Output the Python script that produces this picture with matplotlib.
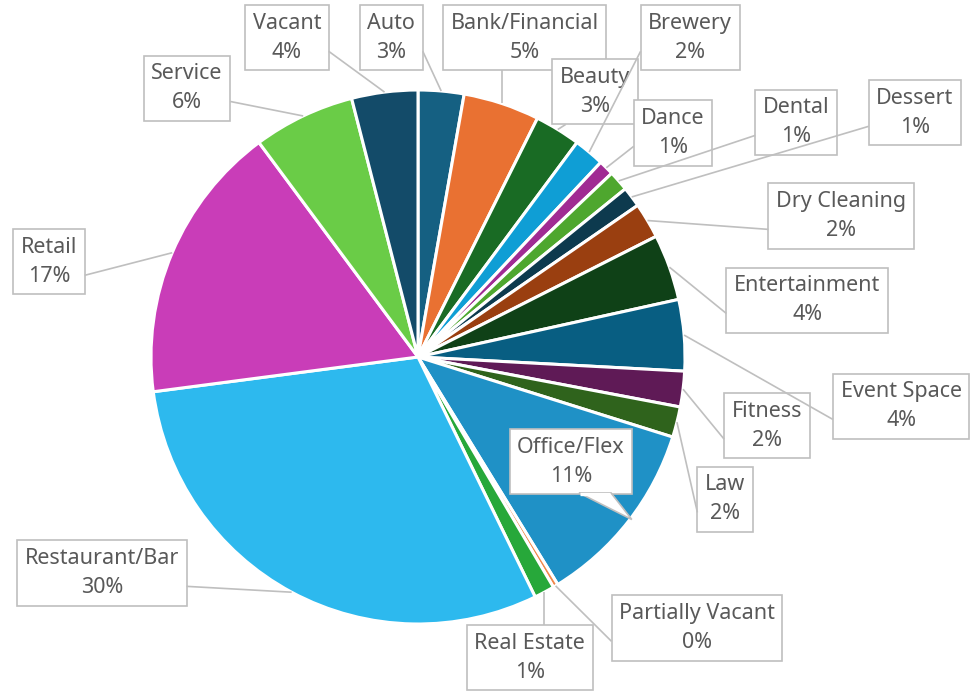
import numpy as np
import matplotlib
matplotlib.use("Agg")
import matplotlib.pyplot as plt

# Data (counts)
categories = ["Auto", "Bank/Financial", "Beauty", "Brewery", "Dance", "Dental",
              "Dessert", "Dry Cleaning", "Entertainment", "Event Space", "Fitness",
              "Law", "Office/Flex", "Partially Vacant", "Real Estate",
              "Restaurant/Bar", "Retail", "Service", "Vacant"]
counts = [9, 15, 9, 6, 3, 4, 4, 7, 13, 14, 7, 6, 37, 1, 4, 98, 55, 20, 13]

colors = ["#156082", "#E97132", "#196B24", "#0F9ED5", "#A02B93", "#4EA72E",
          "#0D3A4E", "#9A3F10", "#0F4117", "#085E82", "#5F1A56", "#2F631C",
          "#1F91C6", "#F0884A", "#27A83A", "#2DB9EE", "#C93DB8", "#6ACC47",
          "#134B69"]

# label box centres (axes data units, pie radius = 1)
label_xy = [(-0.10, 1.195), (0.40, 1.195), (0.663, 0.993), (1.019, 1.195),
            (0.955, 0.839), (1.416, 0.880), (1.861, 0.914), (1.584, 0.528),
            (1.457, 0.213), (1.809, -0.184), (1.307, -0.258), (1.150, -0.532),
            (0.573, -0.393), (1.045, -1.015), (0.419, -1.127), (-1.184, -0.809),
            (-1.382, 0.356), (-0.865, 1.007), (-0.491, 1.195)]

W, H = 973, 692
cx, cy, R = 418, 357, 267
fig = plt.figure(figsize=(W / 100, H / 100), dpi=100)
ax = fig.add_axes([0, 0, 1, 1])

wedges, _ = ax.pie(counts, colors=colors, startangle=90, counterclock=False,
                   radius=1.0, wedgeprops=dict(edgecolor="white", linewidth=2.2))
ax.set_xlim(-cx / R, (W - cx) / R)
ax.set_ylim(-(H - cy) / R, cy / R)
ax.set_aspect("auto")
ax.axis("off")

total = sum(counts)
plt.rcParams["font.family"] = ["Noto Sans", "DejaVu Sans"]
texts = []
for i, (name, v) in enumerate(zip(categories, counts)):
    pct = round(100 * v / total)
    lx, ly = label_xy[i]
    t = ax.text(lx, ly, f"{name}\n{pct}%", ha="center", va="center",
                fontsize=15.5, color="#595959", linespacing=1.5, zorder=4,
                bbox=dict(boxstyle="square,pad=0.35", fc="white", ec="#BFBFBF", lw=1.2))
    texts.append(t)

fig.canvas.draw()
renderer = fig.canvas.get_renderer()
inv = ax.transData.inverted()

for i, w in enumerate(wedges):
    mid = 0.5 * (w.theta1 + w.theta2)
    px, py = np.cos(np.radians(mid)), np.sin(np.radians(mid))
    bb = texts[i].get_bbox_patch().get_window_extent(renderer)
    (x0, y0), (x1, y1) = inv.transform([(bb.x0, bb.y0), (bb.x1, bb.y1)])
    if categories[i] == "Office/Flex":
        # callout pointer into the slice, with a gap in the box border
        tip = (0.99 * px + 0.02, 0.99 * py)
        bx = [x1 - 0.20, tip[0], x1 - 0.08]
        by = [y0 + 0.006, tip[1], y0 + 0.006]
        ax.fill(bx, by, fc="white", ec="#BFBFBF", lw=1.2, zorder=4.5)
        ax.plot([x1 - 0.197, x1 - 0.083], [y0 + 0.002, y0 + 0.002],
                color="white", lw=2.4, zorder=4.6, solid_capstyle="butt")
        continue
    ex, ey = px, py
    if ex > x1:
        pts = [(x1, 0.5 * (y0 + y1) - 0.05)]
    elif ex < x0:
        pts = [(x0, 0.5 * (y0 + y1) - 0.05)]
    elif ey > y1:
        pts = [(min(max(ex, x0 + 0.05), x1 - 0.05), y1)]
    else:
        pts = [(min(max(ex, x0 + 0.05), x1 - 0.05), y0)]
    pts.append((ex, ey))
    xs, ys = zip(*pts)
    ax.plot(xs, ys, color="#BFBFBF", lw=1.2, zorder=5, solid_capstyle="butt")

fig.savefig("out.png", dpi=100)
